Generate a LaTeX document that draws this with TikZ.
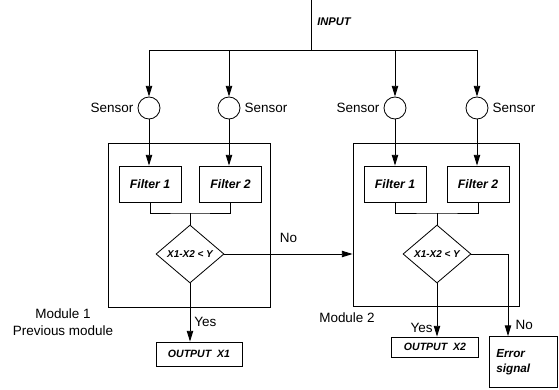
\documentclass[tikz,border=0pt]{standalone}
\usepackage{fontspec}
\setmainfont{Liberation Sans}
\usetikzlibrary{shapes.geometric,arrows.meta}

\tikzset{
  flow/.style={-{Triangle[length=3.2mm,width=1.9mm]}},
  sensor/.style={draw, circle, minimum size=0.66cm, inner sep=0pt, label distance=0.12cm},
  modulebox/.style={draw},
  filterbox/.style={draw, minimum width=1.86cm, minimum height=1.08cm, inner sep=0pt,
    font=\fontsize{10.5}{12}\selectfont\bfseries\itshape},
  decision/.style={draw, diamond, aspect=1.17, minimum width=2.04cm, minimum height=1.74cm, inner sep=0pt,
    font=\fontsize{8.5}{10}\selectfont\bfseries\itshape},
  outbox/.style={draw, inner sep=0pt, font=\fontsize{9}{10}\selectfont\bfseries\itshape},
  plain/.style={font=\fontsize{11.5}{15}\selectfont}
}

\begin{document}
\begin{tikzpicture}[x=0.03cm, y=-0.03cm, line width=0.7pt]
  \useasboundingbox (0,0) rectangle (559,389);

  % Modules
  \node[modulebox, minimum width=4.86cm, minimum height=4.92cm] (mod1) at (189,225) {};
  \node[modulebox, minimum width=4.98cm, minimum height=4.89cm] (mod2) at (436,224.5) {};
  \node[plain, align=center] (mod1lbl) at (63,322) {Module 1\\Previous module};
  \node[plain] (mod2lbl) at (347,318) {Module 2};

  % Input bus
  \coordinate (intop) at (311,0);
  \coordinate (bus) at (311,50);
  \draw (intop) -- (bus);
  \node[font=\fontsize{9.5}{10}\selectfont\bfseries\itshape] (inlbl) at (334,22) {INPUT};

  % Sensors
  \node[sensor, label={[plain]left:Sensor}] (s1) at (149,108) {};
  \node[sensor, label={[plain]right:Sensor}] (s2) at (229,108) {};
  \node[sensor, label={[plain]left:Sensor}] (s3) at (395,108) {};
  \node[sensor, label={[plain]right:Sensor}] (s4) at (477,108) {};
  \draw (s1 |- bus) -- (s4 |- bus);
  \draw[flow] (s1 |- bus) -- (s1.north);
  \draw[flow] (s2 |- bus) -- (s2.north);
  \draw[flow] (s3 |- bus) -- (s3.north);
  \draw[flow] (s4 |- bus) -- (s4.north);

  % Filters
  \node[filterbox] (f11) at (150,184) {Filter 1};
  \node[filterbox] (f12) at (230.5,184) {Filter 2};
  \node[filterbox] (f21) at (395,184) {Filter 1};
  \node[filterbox] (f22) at (478,184) {Filter 2};
  \draw[flow] (s1.south) -- (s1.south |- f11.north);
  \draw[flow] (s2.south) -- (s2.south |- f12.north);
  \draw[flow] (s3.south) -- (s3.south |- f21.north);
  \draw[flow] (s4.south) -- (s4.south |- f22.north);

  % Comparators
  \node[decision] (d1) at (190,254) {X1-X2 < Y};
  \node[decision] (d2) at (437,254) {X1-X2 < Y};
  \coordinate (j1) at (190,213);
  \coordinate (j2) at (437,213);
  \draw (f11.south) |- (j1) -| (f12.south);
  \draw (j1) -- (d1.north);
  \draw (f21.south) |- (j2) -| (f22.south);
  \draw (j2) -- (d2.north);

  % Outputs
  \node[outbox, minimum width=2.58cm, minimum height=0.72cm] (o1) at (199,354) {OUTPUT\ \ X1};
  \node[outbox, minimum width=2.61cm, minimum height=0.6cm] (o2) at (435,347) {OUTPUT\ \ X2};
  \node[outbox, align=left, text width=1.6cm, inner xsep=0.22cm, minimum height=1.53cm,
    font=\fontsize{10}{13}\selectfont\bfseries\itshape] (err) at (523,362) {Error\\signal};

  % Connections
  \draw[flow] (d1.east) -- (d1.east -| mod2.west) node[plain, midway, above=0.2cm] {No};
  \draw[flow] (d1.south) -- (d1.south |- o1.north) node[plain, pos=0.66, right] {Yes};
  \draw[flow] (d2.south) -- (d2.south |- o2.north) node[plain, pos=0.84, left] {Yes};
  \coordinate (e1) at (508,254);
  \draw (d2.east) -- (e1);
  \draw[flow] (e1) -- (e1 |- err.north) node[plain, pos=0.86, right=0.1cm] {No};
\end{tikzpicture}
\end{document}
